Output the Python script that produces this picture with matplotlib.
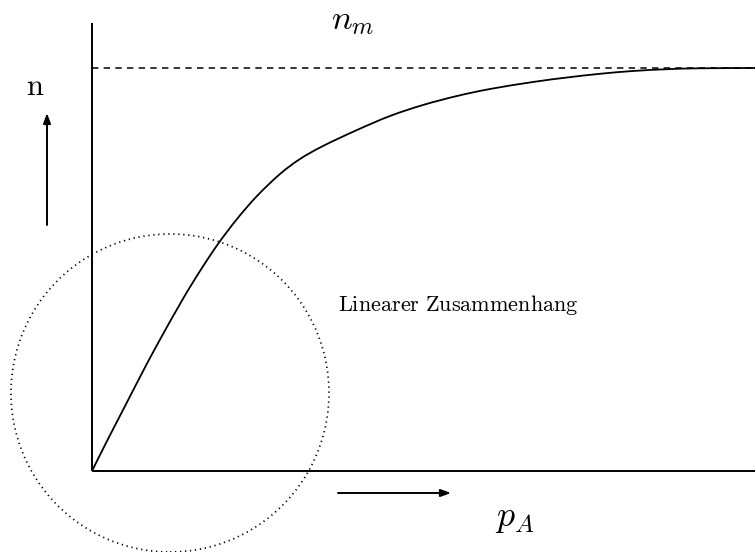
import matplotlib
matplotlib.use("Agg")
import matplotlib.pyplot as plt
import numpy as np
from matplotlib.patches import Circle, PathPatch
from matplotlib.path import Path

plt.rcParams["mathtext.fontset"] = "cm"
plt.rcParams["lines.scale_dashes"] = False

# Saturation curve n(p_A)
p_values = [0.00, 0.15, 0.31, 0.48, 0.65, 0.90, 1.08, 1.26, 1.45, 1.65,
            1.88, 2.08, 2.31, 2.65, 2.98, 3.31, 3.65, 3.98, 4.41, 4.75,
            5.08, 5.41, 5.75, 6.08, 6.63]
n_values = [0.00, 0.30, 0.61, 0.94, 1.26, 1.705, 2.00, 2.27, 2.52, 2.75,
            2.97, 3.12, 3.25, 3.41, 3.55, 3.66, 3.75, 3.82, 3.89, 3.935,
            3.972, 4.00, 4.018, 4.027, 4.03]
n_max = 4.03

# Axis extents
p_axis_end = 6.63
n_axis_end = 4.48

# Region of the linear relationship
circle_center = (0.78, 0.78)
circle_radius = 1.59


def smooth_path(xs, ys):
    """Catmull-Rom spline through the points, as cubic Bezier segments."""
    pts = np.column_stack([xs, ys])
    ext = np.vstack([pts[0], pts, pts[-1]])
    verts = [pts[0]]
    codes = [Path.MOVETO]
    for i in range(1, len(ext) - 2):
        p0, p1, p2, p3 = ext[i - 1], ext[i], ext[i + 1], ext[i + 2]
        verts += [p1 + (p2 - p0) / 6, p2 - (p3 - p1) / 6, p2]
        codes += [Path.CURVE4] * 3
    return Path(verts, codes)


fig = plt.figure(figsize=(7.55, 5.52), dpi=100)
ax = fig.add_axes([0, 0, 1, 1])
ax.set_xlim(-0.92, 6.63)
ax.set_ylim(-0.81, 4.71)
ax.axis("off")

# axes
ax.plot([0, 0], [0, n_axis_end], color="black", lw=1.4, solid_capstyle="butt")
ax.plot([0, p_axis_end], [0, 0], color="black", lw=1.4, solid_capstyle="butt")

# asymptote n_m
ax.plot([0, p_axis_end], [n_max, n_max], color="black", lw=1.1,
        linestyle=(0, (4.6, 3.8)))

# curve
ax.add_patch(PathPatch(smooth_path(p_values, n_values), fill=False,
                       edgecolor="black", lw=1.3, joinstyle="round"))

# dotted circle
ax.add_patch(Circle(circle_center, circle_radius, fill=False, edgecolor="black",
                    lw=1.25, linestyle=(0, (0.9, 2.7))))

# direction arrows
arrow = dict(arrowstyle="-|>,head_length=0.6,head_width=0.22", color="black",
             lw=1.4, shrinkA=0, shrinkB=0)
ax.annotate("", xy=(-0.45, 3.58), xytext=(-0.45, 2.46), arrowprops=arrow)
ax.annotate("", xy=(3.59, -0.22), xytext=(2.46, -0.22), arrowprops=arrow)

# labels
ax.text(-0.57, 3.84, r"$\mathrm{n}$", fontsize=22, ha="center", va="center")
ax.text(2.61, 4.51, r"$n_m$", fontsize=25, ha="center", va="center")
ax.text(4.23, -0.47, r"$p_A$", fontsize=26, ha="center", va="center")
ax.text(2.46, 1.66, r"$\mathrm{Linearer\ Zusammenhang}$", fontsize=16,
        ha="left", va="center")

fig.savefig("out.png", dpi=100)
